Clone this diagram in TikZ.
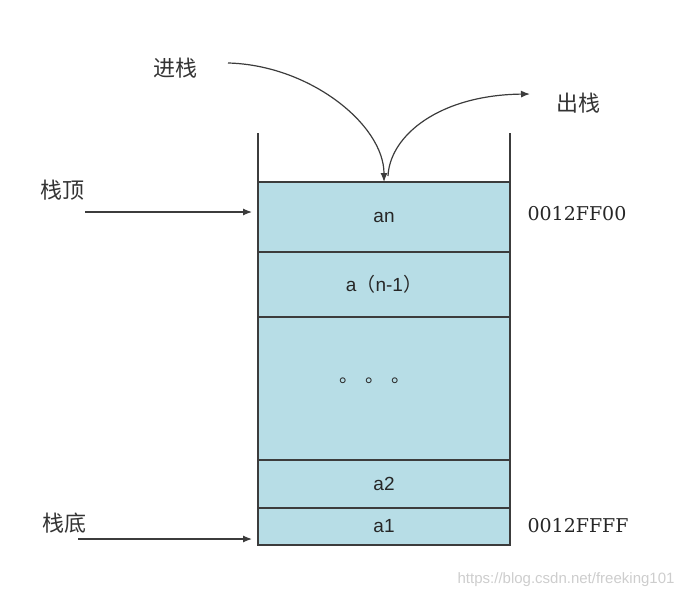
\documentclass[tikz,border=0pt]{standalone}
\usepackage{fontspec}
\setmainfont{Liberation Sans}
\newfontfamily\cjk{Noto Sans CJK SC}
\newfontfamily\addrfont{DejaVu Serif}
\usetikzlibrary{positioning,arrows.meta}
\definecolor{stackblue}{RGB}{183,221,230}
\definecolor{linegray}{RGB}{60,60,60}
\definecolor{markgray}{RGB}{205,205,205}

\begin{document}
\begin{tikzpicture}[x=1pt,y=-1pt,
  cell/.style={rectangle,draw=linegray,fill=stackblue,line width=1.3pt,outer sep=0pt,inner sep=0pt,
    minimum width=252pt,font=\fontsize{19}{19}\selectfont,text=black!85},
  lbl/.style={font=\cjk\fontsize{22}{22}\selectfont,text=black!80},
  addr/.style={anchor=west,font=\addrfont\fontsize{19}{19}\selectfont,text=black!85},
  push/.style={-{Latex[length=9pt,width=7pt]},line width=1.2pt,draw=linegray}]
\useasboundingbox (0,0) rectangle (686,597);
% the stack cells, top to bottom
\node [cell,minimum height=70pt] (an) at (384,217) {an};
\node [cell,minimum height=65pt,below=0pt of an] (an1) {a{\cjk （}n-1{\cjk ）}};
\node [cell,minimum height=143pt,below=0pt of an1] (dots)
  {\raisebox{6pt}[0pt][0pt]{\cjk 。\hspace{7pt}。\hspace{7pt}。\hspace{18pt}}};
\node [cell,minimum height=48pt,below=0pt of dots] (a2) {a2};
\node [cell,minimum height=37pt,below=0pt of a2] (a1) {a1};
% open walls
\coordinate (lt) at (258,133);
\coordinate (rt) at (510,133);
\draw [linegray,line width=1.3pt] (lt) -- (an.north west);
\draw [linegray,line width=1.3pt] (rt) -- (an.north east);
% labels
\node [lbl] (in) at (175,68) {进栈};
\node [lbl] (out) at (578,103) {出栈};
\node [lbl] (top) at (62,190) {栈顶};
\node [lbl] (bottom) at (64,523) {栈底};
\node [addr] (atop) at (524,214) {0012FF00};
\node [addr] (abot) at (524,526) {0012FFFF};
\node [anchor=east,font=\fontsize{15}{15}\selectfont,text=markgray] (mark) at (678,580)
  {https://blog.csdn.net/freeking101};
% arrows
\coordinate (topin) at (85,212);
\coordinate (botin) at (78,539);
\draw [push,shorten >=6pt] (topin) -- (topin -| an.west);
\draw [push,shorten >=6pt] (botin) -- (botin -| a1.west);
\coordinate (pushin) at (228,63);
\coordinate (popout) at (530,94);
\draw [push] (pushin) .. controls (310,65) and (384,125) .. (an.north);
\draw [push] ([xshift=4pt,yshift=6pt]an.north) .. controls (390,135) and (440,95) .. (popout);
\end{tikzpicture}
\end{document}
